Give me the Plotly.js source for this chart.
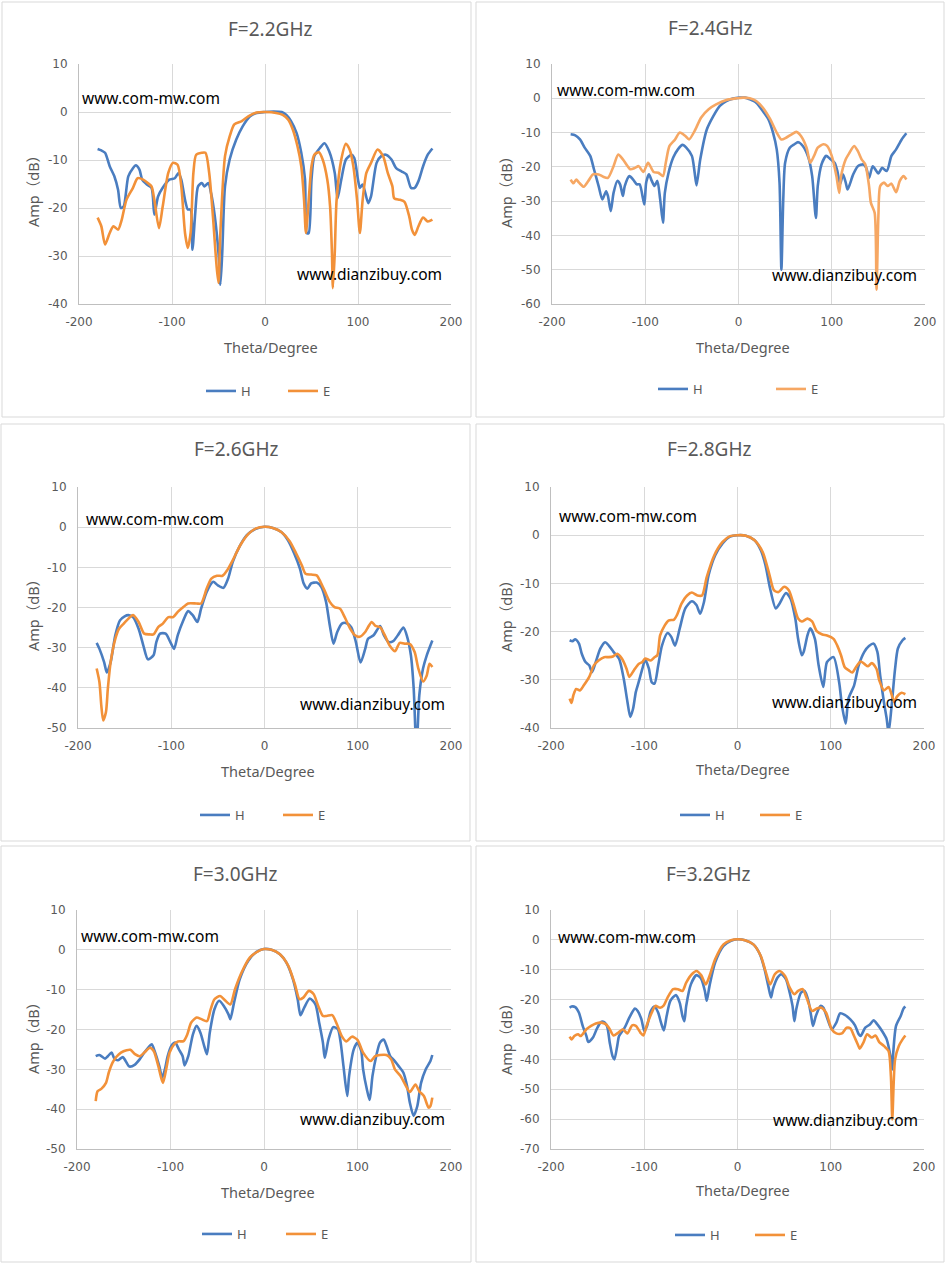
<!DOCTYPE html>
<html>
<head>
<meta charset="utf-8">
<script src="https://cdn.plot.ly/plotly-3.0.1.min.js"></script>
<style>
  html, body { margin: 0; padding: 0; background: #fff; }
  #chart { width: 946px; height: 1263px; }
</style>
</head>
<body>
<div id="chart"></div>
<script>
// ---- data ----
const titles = ["F=2.2GHz", "F=2.4GHz", "F=2.6GHz", "F=2.8GHz", "F=3.0GHz", "F=3.2GHz"];
const yMins = [-40, -60, -50, -40, -50, -70];
const seriesNames = ["H", "E"];
const xTickVals = [-200, -100, 0, 100, 200];
const xTickText = ["-200", "-100", "0", "100", "200"];

const theta22H = [-180,-176,-172,-167,-162,-158,-155,-152,-147,-142,-139,-135,-132,-127,-122,-119,-115,-110,-103,-97,-93,-90,-86,-83,-80,-78,-75,-72,-68,-65,-61,-58,-54,-50,-48,-46,-43,-38,-31,-24,-16,-9,0,9,18,23,28,34,39,43,45,47,50,53,59,64,69,75,78,82,87,93,96,100,102,105,111,114,120,125,130,136,141,147,152,157,161,165,170,175,180];
const amp22H = [-7.7,-8,-8.5,-11.3,-13.4,-16.2,-20,-19.7,-13.4,-11.7,-11.1,-12,-14.1,-15.1,-15.8,-21.4,-17.6,-15.8,-14.1,-13.8,-12.7,-14.1,-18.3,-20.3,-20.3,-28.7,-21,-15.5,-14.8,-15.5,-14.8,-16.9,-21.7,-29.4,-36,-29.4,-15.5,-9.9,-5.8,-3,-0.9,-0.2,0,0.1,0,-0.6,-1.9,-4.4,-8.5,-14,-25.2,-25.2,-14.1,-9.2,-7.5,-6.5,-8.2,-12.7,-18,-14.1,-9.9,-8.9,-9.6,-14.1,-15.8,-15.1,-19,-17.6,-10.6,-9.2,-8.9,-9.9,-11.7,-12.4,-13,-15.8,-15.8,-14.4,-11.3,-8.9,-7.6];
const theta22E = [-180,-176,-172,-167,-163,-158,-154,-149,-142,-137,-131,-126,-122,-119,-114,-110,-104,-99,-94,-90,-86,-83,-80,-77,-74,-68,-64,-60,-56,-52,-50,-48,-43,-38,-33,-25,-18,-9,1,12,19,25,30,35,39,42,44,47,50,53,58,62,67,70,72,73,75,77,82,87,91,95,99,102,105,109,114,121,127,132,137,139,145,150,155,158,161,165,170,175,180];
const amp22E = [-22,-23.8,-27.6,-25.2,-23.8,-24.5,-22.4,-18.3,-15.8,-13.8,-14.1,-14.8,-15.5,-18.3,-24.2,-19.7,-12.7,-10.6,-11,-15.5,-25.2,-28.3,-25.2,-12.7,-8.9,-8.5,-8.5,-12.7,-21.7,-32.2,-35.6,-25.2,-9.2,-5.1,-2.6,-1.9,-0.9,-0.1,0,-0.2,-0.6,-1.6,-3.7,-7.2,-11.3,-18.3,-25.2,-18.3,-11.3,-8.9,-8.4,-9.9,-14.1,-19.7,-29.4,-36.7,-29.4,-18.3,-9.9,-6.6,-7.8,-11.3,-18.3,-25.2,-18.3,-12.7,-10.6,-7.8,-9.2,-12.7,-15.5,-18,-18.3,-18.7,-21.7,-24.5,-25.6,-23.8,-22,-22.8,-22.4];

const theta24H = [-180,-175,-170,-165,-159,-155,-150,-146,-142,-140,-137,-134,-130,-127,-124,-122,-117,-113,-109,-106,-101,-99,-96,-93,-90,-87,-84,-81,-79,-75,-70,-65,-60,-56,-50,-47,-45,-41,-34,-27,-20,-13,-6,1,7,12,19,26,32,37,41,44,46,48,50,55,60,64,69,75,79,83,85,89,94,98,103,106,109,112,115,117,123,128,134,137,140,144,150,154,159,164,169,175,180];
const amp24H = [-10.5,-10.8,-12,-14.4,-16.8,-20.7,-25.6,-29.5,-27.1,-28.5,-32.9,-27.6,-24.1,-25.1,-28.5,-25.6,-22.7,-23.7,-25.1,-25.1,-31,-24.6,-22.2,-24.1,-25.6,-24.1,-29.5,-36.3,-27.6,-21.7,-17.3,-14.9,-13.6,-14.4,-16.8,-21.7,-25.4,-17.8,-9.1,-5.2,-2.2,-0.8,-0.1,0.2,0.2,-0.3,-1.3,-3.7,-6.1,-10,-14.9,-24.6,-50,-29.5,-18.8,-14.4,-13.4,-12.8,-13.9,-17.3,-22.7,-34.9,-25.6,-19.3,-16.8,-17.6,-18.8,-21.2,-25.1,-22.2,-24.6,-26.6,-22.2,-19.8,-19.3,-20.3,-23.2,-19.8,-21.9,-20.3,-21.2,-16.8,-14.9,-12,-10.2];
const theta24E = [-180,-177,-174,-171,-166,-161,-156,-150,-145,-140,-134,-129,-124,-116,-111,-107,-102,-97,-91,-86,-81,-78,-74,-68,-63,-57,-53,-47,-40,-32,-24,-13,-2,5,12,19,26,34,41,46,51,57,62,67,73,77,81,85,91,95,100,105,108,110,115,119,124,128,132,136,140,142,146,148,150,152,156,160,164,169,173,177,180];
const amp24E = [-23.7,-24.8,-23.7,-24.6,-25.8,-24.1,-22.2,-22.2,-22.9,-23.2,-19.8,-16.4,-17.8,-20.7,-20.3,-19.8,-21.5,-18.8,-21.5,-21.7,-22.7,-18.8,-13.9,-12,-10,-11,-12,-9.5,-5.6,-3.2,-1.8,-0.5,0,0.2,0,-0.8,-2.7,-6.1,-10,-12,-11.5,-10.5,-9.8,-11,-14.4,-18.8,-16.8,-14.4,-13.4,-13.9,-16.8,-22.7,-27.6,-22.7,-17.8,-15.9,-13.9,-15.4,-17.8,-19.3,-25.6,-30.5,-33.4,-55.8,-34.4,-25.6,-24.6,-25.6,-24.9,-27.4,-24.1,-22.7,-23.7];

const theta26H = [-180,-177,-172,-169,-165,-160,-155,-150,-146,-141,-135,-130,-125,-119,-116,-112,-106,-101,-97,-93,-87,-82,-77,-72,-68,-62,-55,-50,-44,-39,-34,-26,-19,-10,0,9,18,25,32,38,42,46,50,56,61,66,70,74,78,83,88,93,98,103,108,111,117,124,128,133,138,143,149,153,157,160,163,166,170,174,180];
const amp26H = [-28.8,-30.3,-33.6,-36.2,-33.6,-26.9,-23.2,-22.2,-21.9,-22.4,-25.3,-29.4,-32.9,-31.9,-28.6,-26.5,-26.5,-28.6,-30.3,-26.9,-23.2,-20.9,-21.9,-23.6,-20.3,-16.1,-13.6,-14.5,-15.1,-12.8,-8.6,-4.5,-2,-0.5,0.1,-0.2,-1.2,-3.2,-6.6,-10.3,-14,-15.3,-14,-13.8,-14.9,-18.6,-24.4,-29,-26.1,-24,-23.9,-24.9,-28.6,-33.7,-30.3,-27.8,-26.9,-24.6,-26.9,-28.6,-28.4,-26.9,-25,-27.3,-31.9,-40.2,-56,-41.9,-35.2,-31.9,-28.2];
const theta26E = [-180,-177,-175,-173,-170,-168,-165,-160,-156,-151,-146,-141,-135,-129,-123,-119,-114,-109,-103,-98,-93,-87,-82,-73,-68,-62,-57,-51,-45,-40,-34,-26,-17,-9,0,9,18,27,34,40,44,50,56,60,65,70,75,81,86,92,97,102,108,111,115,119,124,129,134,140,145,150,156,161,165,170,174,177,180];
const amp26E = [-35.2,-38.6,-44.4,-48.1,-46,-40.2,-33.6,-27.8,-25.3,-24,-22.8,-21.9,-23.6,-26.5,-26.7,-26.7,-24.9,-24,-22.4,-22.4,-21.1,-19.9,-19,-19,-19,-15.3,-12.8,-12.1,-12.1,-10.7,-8.2,-4.5,-1.6,-0.3,0.1,-0.2,-1.2,-3.5,-6.6,-9.5,-11.6,-11.8,-12,-13.6,-16.1,-18.6,-19.9,-20.3,-22.4,-25.3,-26.9,-27.3,-26.1,-24.9,-23.6,-24.6,-24.9,-26.9,-29.4,-30.9,-28.8,-29,-29.1,-31.1,-35.2,-38.4,-36.9,-34,-34.8];

const theta28H = [-180,-177,-174,-170,-167,-163,-159,-156,-152,-147,-142,-138,-133,-127,-122,-118,-115,-112,-109,-106,-102,-99,-95,-92,-89,-85,-81,-75,-71,-67,-62,-56,-49,-44,-40,-36,-31,-24,-16,-8,0,9,18,25,30,35,41,45,52,57,62,65,69,71,75,78,83,87,92,96,103,109,112,116,119,125,130,136,141,146,150,153,157,160,162,165,169,172,177,180];
const amp28H = [-21.8,-22,-21.6,-22.5,-24.6,-26.3,-27,-28.4,-26.3,-23.5,-22.2,-22.9,-24.2,-25.6,-29.8,-34.6,-37.7,-36,-32.5,-30.5,-27.7,-25.8,-27.7,-30.5,-30.8,-27,-22.9,-20.3,-21.1,-22.9,-19.4,-15.2,-13.7,-14.5,-16.3,-13.9,-8.3,-4.2,-1.7,-0.3,0,-0.1,-1,-3.1,-6.2,-11.1,-15.2,-14.2,-12,-13.2,-17.3,-21.5,-24.9,-24.2,-20.8,-19.3,-21.5,-27,-31.5,-26.3,-25.3,-30.5,-35.3,-39.1,-33.9,-31.2,-27,-24.2,-23,-22.5,-24.2,-29.1,-34.6,-38.1,-41,-36,-27.7,-23.5,-21.8,-21.3];
const theta28E = [-180,-178,-176,-173,-169,-165,-159,-154,-149,-143,-138,-133,-129,-124,-119,-116,-111,-106,-102,-99,-93,-89,-86,-83,-78,-74,-68,-65,-60,-54,-49,-43,-38,-33,-25,-16,-8,0,9,18,27,34,39,44,50,55,60,65,69,75,80,85,91,96,103,107,111,115,119,123,127,132,136,140,144,149,152,157,162,165,168,171,176,180];
const amp28E = [-33.9,-34.8,-33.2,-31.9,-32.2,-31.2,-29.4,-27,-26,-25.3,-25.3,-25.1,-24.6,-25.6,-27.7,-29.4,-28,-26.7,-26.3,-25.6,-26,-25.3,-24.9,-20.8,-18.7,-17.7,-17.5,-16.6,-14.2,-12.5,-11.9,-12.5,-12.5,-8.7,-4.2,-1.4,-0.2,0,-0.1,-1,-3.5,-8,-11.4,-11.8,-10.7,-11.4,-14.2,-17.3,-17.9,-17.3,-17.9,-19.9,-20.6,-20.8,-21.5,-22.9,-24.9,-27.4,-28,-28.5,-27.4,-26.2,-26.7,-27.2,-26.5,-27.7,-30.1,-32.2,-31.5,-32.9,-34.6,-33.5,-32.7,-33];

const theta30H = [-180,-176,-170,-167,-163,-160,-156,-151,-148,-144,-138,-133,-128,-124,-120,-117,-112,-109,-106,-103,-99,-95,-91,-87,-85,-81,-76,-72,-68,-64,-61,-58,-53,-48,-43,-38,-36,-32,-26,-17,-8,0,8,17,24,31,36,39,43,49,55,59,63,65,69,74,79,82,85,89,91,96,100,104,106,110,113,116,120,124,128,131,135,139,144,149,153,156,160,164,168,173,178,180];
const amp30H = [-26.7,-26.4,-27.3,-26.7,-25.8,-27.3,-27.7,-26.9,-27.9,-29.3,-28.8,-27.5,-25.8,-24.6,-23.7,-25.4,-29.2,-32.1,-30,-26.7,-24.1,-23.3,-25,-26.7,-29,-26.7,-21.2,-19.1,-20.8,-24.1,-26.2,-20.8,-14.9,-12.8,-14.1,-16.2,-17.4,-13.2,-7.4,-2.8,-0.5,0.2,0,-1.1,-3.2,-7.4,-12.4,-16.4,-14.5,-12.2,-13.7,-18.3,-23.3,-27.1,-22.5,-19.4,-19.9,-23.3,-29.2,-36.7,-31.7,-25,-23.3,-25.4,-30,-35,-37.7,-31.7,-26.7,-23.3,-22.5,-24.1,-26.7,-27.7,-29.2,-30.8,-34.2,-38.4,-41.7,-39.2,-33.4,-30,-27.9,-26.4];
const theta30E = [-180,-178,-174,-169,-166,-162,-158,-153,-147,-143,-138,-133,-128,-122,-118,-113,-110,-108,-104,-101,-96,-92,-86,-82,-78,-72,-67,-61,-57,-53,-47,-42,-36,-31,-24,-15,-6,0,8,17,26,33,38,42,48,53,58,63,67,73,78,83,88,94,100,106,114,119,124,131,136,140,146,151,156,162,166,171,176,178,180];
const amp30E = [-38,-35.5,-34.9,-33.4,-30.8,-28.3,-26.9,-25.8,-25.2,-25.1,-26.2,-26.7,-25.8,-24.6,-25.4,-29.2,-32.1,-33.4,-29.2,-25.8,-23.7,-23,-22.9,-21.2,-18.3,-17,-17.4,-17.9,-14.9,-12.4,-11.6,-12.6,-13.7,-9.9,-5.7,-1.9,-0.3,0.2,0,-1.1,-4,-8.6,-12.4,-12,-10.3,-11.1,-14.1,-16.6,-16.6,-16.4,-18.7,-21.6,-23,-21.8,-22.6,-25.8,-27.9,-26.7,-26.4,-26.4,-27.5,-30,-31.7,-33.8,-35.7,-33.8,-35.5,-36.7,-39.6,-39.2,-37.1];

const theta32H = [-180,-178,-174,-170,-166,-162,-160,-155,-151,-147,-144,-140,-137,-134,-132,-129,-127,-121,-116,-110,-107,-103,-100,-97,-93,-89,-85,-82,-79,-76,-72,-66,-62,-59,-57,-55,-50,-44,-39,-35,-33,-30,-24,-15,-7,0,8,17,24,29,33,36,38,43,47,52,56,59,61,63,68,72,76,79,81,84,89,92,96,101,106,110,115,121,126,130,132,137,142,146,150,155,160,164,166,167,170,175,178,180];
const amp32H = [-22.7,-22.3,-22.5,-24.4,-28.8,-32.2,-34.2,-32.7,-29.9,-27.7,-27.4,-28.8,-34.4,-38.9,-40,-35.5,-32.2,-29.4,-26,-23,-23.8,-26.6,-30.5,-28.8,-23.8,-22.3,-24.4,-27.7,-30.3,-25.5,-20.4,-18.5,-21,-25.5,-27.2,-22.1,-14.9,-11.8,-13,-17.1,-20.4,-15.4,-7.6,-2,-0.3,0.2,-0.1,-1.5,-4.8,-9.8,-15.4,-19.3,-16.5,-12.6,-11.5,-13.2,-17.7,-22.1,-27.2,-23.2,-17.7,-17.1,-20.4,-25.5,-28.8,-25.5,-22.1,-22.7,-26,-29.9,-27.7,-24.6,-25.1,-26.6,-28.6,-31.6,-32.2,-29.4,-28.3,-26.9,-28.3,-30.5,-33.3,-38.9,-43.4,-37.8,-28.8,-25.5,-23,-22.3];
const theta32E = [-180,-178,-175,-171,-168,-162,-157,-152,-146,-141,-137,-133,-128,-123,-118,-113,-109,-104,-101,-97,-92,-88,-83,-79,-75,-69,-64,-59,-55,-49,-44,-39,-34,-30,-24,-15,-7,0,8,17,25,30,35,40,45,51,56,61,65,70,74,80,85,90,95,101,106,112,117,121,125,129,131,135,139,144,148,152,157,162,164.5,166,167.5,169,173,177,180];
const amp32E = [-32.4,-33.3,-32.2,-31.6,-32.2,-29.9,-28.8,-28,-27.7,-28.3,-29.9,-32,-31.1,-29.9,-31.3,-28.6,-28.8,-31.1,-32,-28.3,-24.4,-22.1,-22.7,-21.9,-19.3,-16.5,-16.5,-17.1,-14.3,-11.5,-10.4,-11.8,-14.9,-12.1,-6.5,-1.5,-0.1,0.2,-0.1,-1.5,-5.4,-10.4,-14.9,-11.5,-10.4,-12.1,-16,-18.2,-17.1,-16.5,-19.3,-23.8,-23,-22.7,-24.4,-29.9,-31.3,-31.3,-29.4,-29.6,-32.2,-35,-36.4,-34.4,-31.6,-32.7,-32,-34.2,-35.5,-37.2,-45.6,-60.1,-47.8,-40,-35.5,-33.3,-32];

const hTheta = [theta22H, theta24H, theta26H, theta28H, theta30H, theta32H];
const hAmp = [amp22H, amp24H, amp26H, amp28H, amp30H, amp32H];
const eTheta = [theta22E, theta24E, theta26E, theta28E, theta30E, theta32E];
const eAmp = [amp22E, amp24E, amp26E, amp28E, amp30E, amp32E];

// ---- page geometry (px in the 946x1263 window) ----
const W = 946, H = 1263;
const px = x => x / W;
const py = y => 1 - y / H;

const panels = [
  { plot: [79, 451, 64, 304], box: [2, 2, 471, 417], title: [270, 29], xlab: [271, 347], ylab: [33, 188], wm1: [80, 98], wm2: [444, 274], leg: [206, 390, 82] },
  { plot: [552, 925, 64, 304], box: [476, 2, 944, 417], title: [710, 28], xlab: [743, 347], ylab: [506, 188], wm1: [555, 90], wm2: [919, 275], leg: [658, 388, 118] },
  { plot: [78, 451, 487, 728], box: [1, 424, 470, 841], title: [236, 449], xlab: [268, 771], ylab: [33, 612], wm1: [84, 519], wm2: [447, 704], leg: [200, 814, 83] },
  { plot: [551, 924, 487, 728], box: [476, 424, 944, 841], title: [709, 449], xlab: [743, 769], ylab: [506, 612], wm1: [557, 516], wm2: [919, 702], leg: [680, 814, 80] },
  { plot: [77, 451, 910, 1149], box: [1, 846, 471, 1262], title: [235, 874], xlab: [268, 1192], ylab: [33, 1035], wm1: [79, 936], wm2: [447, 1119], leg: [202, 1233, 84] },
  { plot: [551, 924, 910, 1149], box: [476, 846, 944, 1262], title: [708, 874], xlab: [743, 1190], ylab: [506, 1035], wm1: [556, 937], wm2: [920, 1120], leg: [675, 1234, 80] },
];

const blue = "#4A7DC0";
const orange = "#F29139";
const orangeLight = "#F6A763";
const gray = "#595959";
const font = "'Noto Sans', 'Noto Sans CJK SC', sans-serif";
const tickFont = "'DejaVu Sans', sans-serif";

// y tick values/labels with a plain hyphen like the original
function yTicks(min) {
  const vals = [];
  for (let v = min; v <= 10; v += 10) vals.push(v);
  return vals;
}

const traces = [];
const layout = {
  width: W,
  height: H,
  margin: { l: 0, r: 0, t: 0, b: 0 },
  paper_bgcolor: "#ffffff",
  plot_bgcolor: "#ffffff",
  font: { family: font, color: gray },
  showlegend: true,
  shapes: [],
  annotations: [],
};

panels.forEach((p, i) => {
  const n = i + 1;
  const sfx = n === 1 ? "" : String(n);
  const legendId = "legend" + sfx;
  const yVals = yTicks(yMins[i]);

  layout["xaxis" + sfx] = {
    domain: [px(p.plot[0]), px(p.plot[1])],
    anchor: "y" + sfx,
    range: [-200, 200],
    tickmode: "array",
    tickvals: xTickVals,
    ticktext: xTickText,
    showgrid: true,
    gridcolor: "#d9d9d9",
    showline: true,
    linecolor: "#bfbfbf",
    zeroline: false,
    ticks: "",
    ticklabelstandoff: 7,
    tickfont: { family: tickFont, size: 12, color: gray },
  };
  layout["yaxis" + sfx] = {
    domain: [py(p.plot[3]), py(p.plot[2])],
    anchor: "x" + sfx,
    range: [yMins[i], 10],
    tickmode: "array",
    tickvals: yVals,
    ticktext: yVals.map(v => String(v)),
    showgrid: true,
    gridcolor: "#d9d9d9",
    showline: true,
    linecolor: "#bfbfbf",
    zeroline: false,
    ticks: "",
    ticklabelstandoff: 8,
    tickfont: { family: tickFont, size: 12, color: gray },
  };

  layout[legendId] = {
    orientation: "h",
    x: px(p.leg[0] - 5),
    y: py(p.leg[1] - 14),
    xanchor: "left",
    yanchor: "top",
    entrywidth: p.leg[2] - 45,
    bgcolor: "rgba(0,0,0,0)",
    font: { family: font, size: 13, color: gray },
  };

  const eColor = n === 2 ? orangeLight : orange;
  traces.push({
    x: hTheta[i], y: hAmp[i], xaxis: "x" + sfx, yaxis: "y" + sfx,
    type: "scatter", mode: "lines", name: seriesNames[0], legend: legendId,
    line: { color: blue, width: 2.6, shape: "spline", smoothing: 0.7 },
    hoverinfo: "skip",
  });
  traces.push({
    x: eTheta[i], y: eAmp[i], xaxis: "x" + sfx, yaxis: "y" + sfx,
    type: "scatter", mode: "lines", name: seriesNames[1], legend: legendId,
    line: { color: eColor, width: 2.6, shape: "spline", smoothing: 0.7 },
    hoverinfo: "skip",
  });

  layout.shapes.push({
    type: "rect", xref: "paper", yref: "paper", layer: "below",
    x0: px(p.box[0]), x1: px(p.box[2]), y0: py(p.box[3]), y1: py(p.box[1]),
    line: { color: "#d9d9d9", width: 1 },
  });

  layout.annotations.push(
    { text: titles[i], xref: "paper", yref: "paper", x: px(p.title[0]), y: py(p.title[1]),
      xanchor: "center", yanchor: "middle", showarrow: false,
      font: { family: font, size: 19, color: gray } },
    { text: "Theta/Degree", xref: "paper", yref: "paper", x: px(p.xlab[0]), y: py(p.xlab[1]),
      xanchor: "center", yanchor: "middle", showarrow: false,
      font: { family: font, size: 14.5, color: gray } },
    { text: "Amp（dB）", xref: "paper", yref: "paper", x: px(p.ylab[0]), y: py(p.ylab[1]),
      xanchor: "center", yanchor: "middle", showarrow: false, textangle: -90,
      font: { family: font, size: 14.5, color: gray } },
    { text: "www.com-mw.com", xref: "paper", yref: "paper", x: px(p.wm1[0]), y: py(p.wm1[1]),
      xanchor: "left", yanchor: "middle", showarrow: false,
      font: { family: font, size: 15.5, color: "#000000" } },
    { text: "www.dianzibuy.com", xref: "paper", yref: "paper", x: px(p.wm2[0]), y: py(p.wm2[1]),
      xanchor: "right", yanchor: "middle", showarrow: false,
      font: { family: font, size: 15.5, color: "#000000" } }
  );
});

Plotly.newPlot("chart", traces, layout, { staticPlot: true, displayModeBar: false });
</script>
</body>
</html>
